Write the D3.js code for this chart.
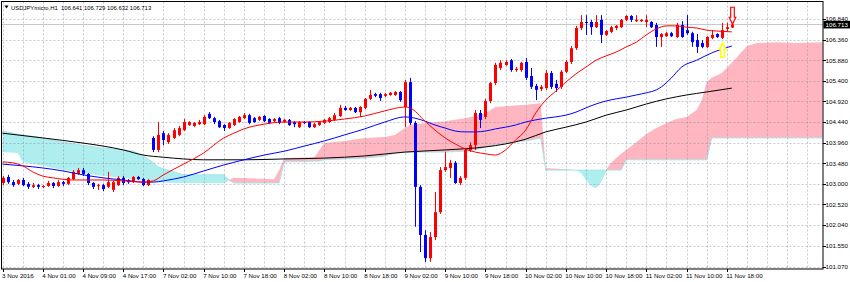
<!DOCTYPE html>
<html>
<head>
<meta charset="utf-8">
<script src="https://cdn.jsdelivr.net/npm/d3@7"></script>
<style>
body { margin: 0; background: #fff; }
svg { display: block; }
text { font-family: "Liberation Sans", Arial, sans-serif; font-size: 6.2px; fill: #000; }
.header { font-size: 5.9px; white-space: pre; }
</style>
</head>
<body>
<div class="container"></div>
<script>
var symbol = "USDJPYmicro,H1";
var lastQuote = [106.641, 106.729, 106.632, 106.713];

var timeLabels = ["3 Nov 2016", "4 Nov 01:00", "4 Nov 09:00", "4 Nov 17:00", "7 Nov 02:00", "7 Nov 10:00",
  "7 Nov 18:00", "8 Nov 02:00", "8 Nov 10:00", "8 Nov 18:00", "9 Nov 02:00", "9 Nov 10:00", "9 Nov 18:00",
  "10 Nov 02:00", "10 Nov 10:00", "10 Nov 18:00", "11 Nov 02:00", "11 Nov 10:00", "11 Nov 18:00"];
var priceTicks = [106.840, 106.360, 105.880, 105.400, 104.920, 104.440, 103.960, 103.480, 103.000,
  102.520, 102.040, 101.550, 101.070];

// hourly candles, bar 0 = 3 Nov 17:00
var opens = [103.02, 103.16, 103.04, 103.00, 103.09, 103.00, 102.93, 102.97, 102.93, 102.95,
  103.02, 102.95, 103.04, 103.00, 103.11, 103.23, 103.32, 103.23, 103.02, 102.95,
  102.97, 102.93, 102.86, 102.97, 103.14, 103.09, 103.04, 103.16, 103.11, 102.97,
  104.07, 103.79, 104.18, 103.97, 104.07, 104.14, 104.25, 104.37, 104.35, 104.39,
  104.39, 104.63, 104.53, 104.46, 104.37, 104.30, 104.37, 104.44, 104.53, 104.60,
  104.53, 104.49, 104.58, 104.51, 104.46, 104.53, 104.44, 104.49, 104.44, 104.32,
  104.44, 104.44, 104.32, 104.37, 104.42, 104.44, 104.49, 104.58, 104.77, 104.72,
  104.77, 104.67, 104.77, 104.98, 105.09, 105.09, 105.05, 105.07, 105.07, 105.14,
  104.79, 105.37, 104.42, 102.93, 101.81, 101.27, 101.76, 102.34, 103.32, 103.37,
  103.49, 103.02, 103.14, 103.79, 103.90, 104.65, 104.56, 104.93, 105.35, 105.70,
  105.77, 105.88, 105.65, 105.65, 105.84, 105.51, 105.28, 105.21, 105.23, 105.58,
  105.33, 105.26, 105.61, 105.84, 106.16, 106.63, 106.77, 106.77, 106.65, 106.82,
  106.47, 106.54, 106.63, 106.65, 106.82, 106.91, 106.79, 106.79, 106.77, 106.77,
  106.70, 106.42, 106.44, 106.51, 106.42, 106.70, 106.58, 106.51, 106.35, 106.28,
  106.19, 106.40, 106.49, 106.40, 106.61, 106.641];
var highs = [103.18, 103.21, 103.09, 103.11, 103.14, 103.04, 103.02, 103.00, 102.97, 103.07,
  103.04, 103.09, 103.07, 103.16, 103.32, 103.37, 103.37, 103.25, 103.04, 103.00,
  103.00, 103.28, 103.07, 103.18, 103.18, 103.11, 103.18, 103.18, 103.14, 103.11,
  104.11, 104.44, 104.23, 104.18, 104.30, 104.35, 104.51, 104.46, 104.44, 104.49,
  104.60, 104.67, 104.56, 104.49, 104.39, 104.44, 104.53, 104.58, 104.65, 104.63,
  104.56, 104.58, 104.60, 104.53, 104.53, 104.56, 104.51, 104.51, 104.46, 104.46,
  104.46, 104.46, 104.42, 104.46, 104.51, 104.56, 104.65, 104.84, 104.81, 104.79,
  104.79, 104.81, 105.00, 105.19, 105.12, 105.12, 105.12, 105.14, 105.16, 105.16,
  105.42, 105.47, 104.46, 102.97, 101.92, 101.88, 102.81, 103.39, 103.74, 103.56,
  103.53, 103.18, 103.81, 103.97, 104.72, 104.72, 104.98, 105.37, 105.82, 105.88,
  105.88, 105.91, 105.72, 105.84, 105.93, 105.70, 105.33, 105.30, 105.65, 105.63,
  105.42, 105.65, 105.88, 106.21, 106.68, 106.93, 106.93, 106.82, 106.93, 106.93,
  106.58, 106.68, 106.70, 106.84, 106.93, 106.93, 106.93, 106.84, 106.93, 106.79,
  106.75, 106.51, 106.54, 106.54, 106.75, 106.79, 106.93, 106.54, 106.49, 106.35,
  106.44, 106.58, 106.51, 106.75, 106.75, 106.729];
var lows = [102.97, 103.00, 102.93, 102.97, 102.95, 102.88, 102.90, 102.88, 102.90, 102.93,
  102.90, 102.93, 102.95, 102.97, 103.09, 103.21, 103.18, 102.97, 102.88, 102.86,
  102.83, 102.90, 102.81, 102.95, 102.97, 103.00, 103.02, 103.09, 102.95, 102.95,
  103.74, 103.74, 103.90, 103.93, 104.04, 104.11, 104.23, 104.35, 104.32, 104.37,
  104.37, 104.51, 104.39, 104.30, 104.23, 104.28, 104.35, 104.42, 104.51, 104.39,
  104.42, 104.46, 104.44, 104.39, 104.44, 104.39, 104.42, 104.35, 104.32, 104.30,
  104.39, 104.30, 104.30, 104.35, 104.39, 104.42, 104.46, 104.56, 104.70, 104.70,
  104.65, 104.56, 104.74, 104.95, 105.02, 104.93, 105.02, 105.05, 105.05, 104.91,
  104.32, 104.37, 102.00, 101.41, 101.18, 101.18, 101.69, 102.30, 103.28, 103.14,
  103.00, 102.97, 103.09, 103.74, 103.79, 104.30, 104.51, 104.88, 105.30, 105.65,
  105.75, 105.61, 105.61, 105.61, 105.42, 105.21, 104.95, 105.16, 105.19, 105.21,
  105.14, 105.21, 105.58, 105.79, 106.12, 106.58, 106.47, 106.47, 106.63, 106.28,
  106.44, 106.51, 106.58, 106.63, 106.79, 106.77, 106.77, 106.77, 106.65, 106.63,
  106.19, 106.19, 106.42, 106.42, 106.40, 106.40, 106.47, 106.19, 106.05, 106.16,
  106.16, 106.37, 106.40, 106.37, 106.56, 106.632];
var closes = [103.14, 103.04, 102.97, 103.09, 102.97, 102.93, 102.97, 102.93, 102.95, 103.02,
  102.95, 103.04, 103.00, 103.14, 103.28, 103.32, 103.23, 103.02, 102.93, 102.97,
  102.88, 103.04, 103.04, 103.14, 103.02, 103.04, 103.16, 103.11, 102.97, 103.09,
  103.79, 104.14, 104.02, 104.14, 104.25, 104.30, 104.44, 104.44, 104.42, 104.44,
  104.56, 104.53, 104.44, 104.32, 104.30, 104.42, 104.51, 104.56, 104.60, 104.42,
  104.44, 104.56, 104.46, 104.42, 104.51, 104.42, 104.49, 104.37, 104.39, 104.44,
  104.42, 104.32, 104.39, 104.44, 104.49, 104.53, 104.60, 104.77, 104.72, 104.77,
  104.67, 104.79, 104.98, 105.07, 105.05, 105.00, 105.09, 105.12, 105.14, 104.95,
  105.37, 104.42, 102.93, 101.81, 101.27, 101.76, 102.34, 103.32, 103.39, 103.49,
  103.02, 103.14, 103.79, 103.90, 104.65, 104.49, 104.93, 105.35, 105.77, 105.82,
  105.84, 105.65, 105.68, 105.82, 105.47, 105.26, 105.19, 105.26, 105.58, 105.26,
  105.23, 105.61, 105.84, 106.16, 106.63, 106.77, 106.75, 106.65, 106.77, 106.47,
  106.56, 106.65, 106.68, 106.82, 106.91, 106.82, 106.82, 106.82, 106.82, 106.65,
  106.42, 106.49, 106.51, 106.44, 106.70, 106.42, 106.51, 106.30, 106.19, 106.19,
  106.42, 106.47, 106.42, 106.58, 106.65, 106.713];

// moving averages read at [bar, price]
var fastMa = [[0, 103.51], [2, 103.49], [4, 103.42], [6, 103.28], [8, 103.18], [10, 103.14], [14, 103.09],
  [20, 103.09], [24, 103.07], [28, 103.04], [30, 103.07], [32, 103.21], [36, 103.46], [40, 103.72],
  [44, 104.07], [46, 104.18], [48, 104.28], [52, 104.39], [56, 104.44], [60, 104.44], [64, 104.46],
  [68, 104.51], [72, 104.58], [76, 104.70], [80, 104.79], [81, 104.77], [84, 104.46], [86, 104.25],
  [88, 104.07], [90, 103.93], [92, 103.81], [94, 103.74], [96, 103.70], [98, 103.67], [100, 103.79],
  [102, 104.02], [104, 104.25], [106, 104.65], [108, 104.95], [110, 105.16], [112, 105.37], [114, 105.56],
  [116, 105.72], [118, 105.88], [120, 105.98], [122, 106.07], [124, 106.19], [126, 106.30], [128, 106.47],
  [130, 106.61], [132, 106.68], [134, 106.68], [136, 106.65], [138, 106.63], [140, 106.58], [142, 106.56],
  [145, 106.54]];
var midMa = [[0, 103.46], [4, 103.42], [8, 103.37], [12, 103.30], [16, 103.21], [20, 103.14], [24, 103.09],
  [28, 103.04], [30, 103.04], [32, 103.07], [36, 103.16], [40, 103.30], [44, 103.44], [48, 103.56],
  [52, 103.67], [56, 103.76], [60, 103.88], [64, 104.00], [68, 104.14], [72, 104.28], [76, 104.44],
  [80, 104.56], [82, 104.53], [84, 104.46], [86, 104.37], [88, 104.30], [90, 104.23], [92, 104.21],
  [94, 104.21], [96, 104.23], [98, 104.28], [100, 104.32], [102, 104.37], [104, 104.44], [106, 104.49],
  [108, 104.53], [110, 104.56], [112, 104.60], [114, 104.67], [116, 104.77], [118, 104.86], [120, 104.93],
  [122, 104.98], [124, 105.02], [126, 105.07], [128, 105.12], [130, 105.19], [131, 105.26], [133, 105.47],
  [135, 105.72], [138, 105.88], [141, 106.05], [145, 106.21]];
var slowMa = [[0, 104.18], [8, 104.07], [16, 103.95], [20, 103.88], [24, 103.79], [28, 103.67], [32, 103.62],
  [36, 103.58], [40, 103.56], [48, 103.56], [56, 103.58], [64, 103.60], [72, 103.65], [80, 103.74],
  [88, 103.79], [96, 103.86], [100, 103.93], [104, 104.04], [108, 104.21], [112, 104.32], [116, 104.44],
  [120, 104.60], [124, 104.72], [128, 104.86], [132, 104.98], [136, 105.07], [140, 105.14], [145, 105.23]];

// ichimoku cloud, senkou spans read at bars (shifted 26 bars ahead)
var cloudBars = [0, 3, 4, 8, 12, 16, 20, 24, 26, 28, 30, 31, 34, 36, 44, 45, 46, 54, 55, 56, 62, 63, 64,
  68, 72, 76, 78, 80, 81, 84, 88, 92, 94, 96, 98, 100, 104, 107, 108, 114, 115, 116, 117, 118, 119, 120,
  121, 122, 123, 124, 126, 128, 130, 132, 134, 136, 138, 139, 140, 141, 143, 144, 146, 148, 150, 154, 158, 163];
var spanA = [103.74, 103.72, 103.51, 103.42, 103.32, 103.25, 103.18, 103.14, 103.11, 103.09, 103.04, 103.04,
  103.02, 103.02, 103.02, 103.07, 103.14, 103.11, 103.32, 103.60, 103.62, 103.79, 103.95,
  104.00, 104.07, 104.09, 104.14, 104.30, 104.37, 104.42, 104.46, 104.53, 104.58, 104.65, 104.79, 104.81,
  104.84, 104.88, 103.37, 103.32, 103.25, 103.09, 102.95, 102.90, 103.04, 103.28,
  103.49, 103.60, 103.70, 103.79, 103.97, 104.16, 104.30, 104.42, 104.51, 104.56, 104.72, 104.95, 105.37,
  105.47, 105.58, 105.70, 105.95, 106.21, 106.28, 106.30, 106.28, 106.30];
var spanB = [104.23, 104.16, 104.14, 104.07, 103.97, 103.90, 103.83, 103.79, 103.76, 103.65, 103.49, 103.39,
  103.28, 103.21, 103.21, 103.09, 103.02, 103.02, 103.02, 103.51, 103.53, 103.53, 103.56,
  103.58, 103.60, 103.65, 103.72, 103.74, 103.74, 103.74, 103.74, 103.76, 103.79, 103.86, 103.90, 103.95,
  104.00, 104.07, 103.32, 103.32, 103.32, 103.32, 103.32, 103.32, 103.32, 103.32,
  103.32, 103.32, 103.32, 103.56, 103.56, 103.56, 103.56, 103.56, 103.56, 103.56, 103.56, 103.56, 103.56,
  104.07, 104.07, 104.07, 104.07, 104.07, 104.07, 104.07, 104.07, 104.07];

var signals = [{bar: 143, type: "buy"}, {bar: 145, type: "sell"}];

var width = 850, height = 282;
var plot = {left: 1.5, top: 1.5, right: 823, bottom: 269};

var x = d3.scaleLinear().domain([0, 145]).range([2.5, 2.5 + 5.03 * 145]);
var y = d3.scaleLinear().domain([101.07, 106.84]).range([266.7, 19]);
var fmt = d3.format(".3f");

var svg = d3.select(".container")
    .append("svg")
    .attr("width", width)
    .attr("height", height);

svg.append("rect").attr("width", width).attr("height", height).attr("fill", "#fff");

svg.append("clipPath").attr("id", "plotclip")
  .append("rect")
    .attr("x", plot.left).attr("y", plot.top)
    .attr("width", plot.right - plot.left).attr("height", plot.bottom - plot.top);

var g = svg.append("g").attr("clip-path", "url(#plotclip)");

// cloud
var cloud = cloudBars.map(function(b, k) { return {bar: b, a: spanA[k], b: spanB[k]}; });

var bullArea = d3.area()
    .x(function(d) { return x(d.bar); })
    .y0(function(d) { return y(d.b); })
    .y1(function(d) { return y(Math.max(d.a, d.b)); });
var bearArea = d3.area()
    .x(function(d) { return x(d.bar); })
    .y0(function(d) { return y(d.a); })
    .y1(function(d) { return y(Math.max(d.a, d.b)); });

g.append("path").datum(cloud).attr("d", bearArea).attr("fill", "#afeeee");
g.append("path").datum(cloud).attr("d", bullArea).attr("fill", "#ffb6c1");
g.append("path").datum(cloud)
    .attr("d", d3.line().x(function(d) { return x(d.bar); }).y(function(d) { return y(d.b); }))
    .attr("fill", "none").attr("stroke", "#a8e6e6").attr("stroke-width", 1);

// grid
g.selectAll(".hgrid").data(priceTicks).enter().append("line")
    .attr("x1", plot.left).attr("x2", plot.right)
    .attr("y1", function(d) { return Math.round(y(d)) + 0.5; })
    .attr("y2", function(d) { return Math.round(y(d)) + 0.5; })
    .attr("stroke", "#778899").attr("stroke-opacity", 0.45).attr("stroke-dasharray", "2,2");

g.selectAll(".vgrid").data(d3.range(0, 164, 4)).enter().append("line")
    .attr("x1", function(d) { return Math.round(x(d)) + 0.5; })
    .attr("x2", function(d) { return Math.round(x(d)) + 0.5; })
    .attr("y1", plot.top).attr("y2", plot.bottom)
    .attr("stroke", "#778899").attr("stroke-opacity", 0.45).attr("stroke-dasharray", "2,2");

// current price line
g.append("line")
    .attr("x1", plot.left).attr("x2", plot.right)
    .attr("y1", Math.round(y(lastQuote[3])) + 0.5).attr("y2", Math.round(y(lastQuote[3])) + 0.5)
    .attr("stroke", "#c8c8c8");

// candles
var bars = d3.range(opens.length);
var up = function(i) { return closes[i] >= opens[i]; };
var colour = function(i) { return up(i) ? "#ff0000" : "#0000ff"; };

var candle = g.selectAll(".candle").data(bars).enter().append("g");
candle.append("line")
    .attr("x1", function(i) { return Math.round(x(i)) + 0.5; })
    .attr("x2", function(i) { return Math.round(x(i)) + 0.5; })
    .attr("y1", function(i) { return y(highs[i]); })
    .attr("y2", function(i) { return y(lows[i]); })
    .attr("stroke", colour);
candle.append("rect")
    .attr("x", function(i) { return Math.round(x(i)) - 1; })
    .attr("width", 3)
    .attr("y", function(i) { return y(Math.max(opens[i], closes[i])); })
    .attr("height", function(i) { return Math.max(1, Math.abs(y(opens[i]) - y(closes[i]))); })
    .attr("fill", colour);

// moving averages
var maLine = d3.line()
    .curve(d3.curveMonotoneX)
    .x(function(d) { return x(d[0]); })
    .y(function(d) { return y(d[1]); });

g.append("path").datum(slowMa).attr("d", maLine)
    .attr("fill", "none").attr("stroke", "#000").attr("stroke-width", 1);
g.append("path").datum(midMa).attr("d", maLine)
    .attr("fill", "none").attr("stroke", "#0000ff").attr("stroke-width", 1);
g.append("path").datum(fastMa).attr("d", maLine)
    .attr("fill", "none").attr("stroke", "#ff0000").attr("stroke-width", 1);

// signal arrows
g.selectAll(".signal").data(signals).enter().append("path")
    .attr("d", function(d) {
      var cx = Math.round(x(d.bar)) + 0.5;
      if (d.type == "sell") {
        var t = y(highs[d.bar]) + 0.5;
        return "M" + (cx - 1.8) + "," + (t - 17) + "H" + (cx + 1.8) + "V" + (t - 7) +
          "H" + (cx + 3.3) + "L" + cx + "," + t + "L" + (cx - 3.3) + "," + (t - 7) + "H" + (cx - 1.8) + "Z";
      }
      var b = y(lows[d.bar]) + 4;
      return "M" + cx + "," + b + "L" + (cx + 3.2) + "," + (b + 6) + "H" + (cx + 1.8) + "V" + (b + 14) +
        "H" + (cx - 1.8) + "V" + (b + 6) + "H" + (cx - 3.2) + "Z";
    })
    .attr("fill", "#fff")
    .attr("stroke", function(d) { return d.type == "sell" ? "#ff0000" : "#ffff00"; })
    .attr("stroke-width", function(d) { return d.type == "sell" ? 1.2 : 1.5; });

// frame
svg.append("rect")
    .attr("x", plot.left).attr("y", plot.top)
    .attr("width", plot.right - plot.left).attr("height", plot.bottom - plot.top)
    .attr("fill", "none").attr("stroke", "#000");

// price axis
svg.selectAll(".ytick").data(priceTicks).enter().append("line")
    .attr("x1", plot.right).attr("x2", plot.right + 3)
    .attr("y1", function(d) { return Math.round(y(d)) + 0.5; })
    .attr("y2", function(d) { return Math.round(y(d)) + 0.5; })
    .attr("stroke", "#000");
svg.selectAll(".ylabel").data(priceTicks).enter().append("text")
    .attr("x", 825.5)
    .attr("y", function(d) { return y(d) + 2.3; })
    .text(fmt);

svg.append("rect")
    .attr("x", 823.5).attr("y", y(lastQuote[3]) - 3.6)
    .attr("width", 26.5).attr("height", 7.6)
    .attr("fill", "#000");
svg.append("text")
    .attr("x", 825.5).attr("y", y(lastQuote[3]) + 2.3)
    .style("fill", "#fff")
    .text(fmt(lastQuote[3]));

// time axis
svg.selectAll(".xtick").data(timeLabels).enter().append("line")
    .attr("x1", function(d, k) { return Math.round(x(k * 8)) + 0.5; })
    .attr("x2", function(d, k) { return Math.round(x(k * 8)) + 0.5; })
    .attr("y1", plot.bottom).attr("y2", plot.bottom + 3)
    .attr("stroke", "#000");
svg.selectAll(".xlabel").data(timeLabels).enter().append("text")
    .attr("x", function(d, k) { return x(k * 8) - 0.5; })
    .attr("y", 277.5)
    .text(function(d) { return d; });

// header
svg.append("path").attr("d", "M4.5,5.5L8.5,5.5L6.5,8.5Z").attr("fill", "#000");
svg.append("text").attr("class", "header").attr("x", 11).attr("y", 10)
    .text(symbol + "  " + lastQuote.map(fmt).join(" "));
</script>
</body>
</html>
